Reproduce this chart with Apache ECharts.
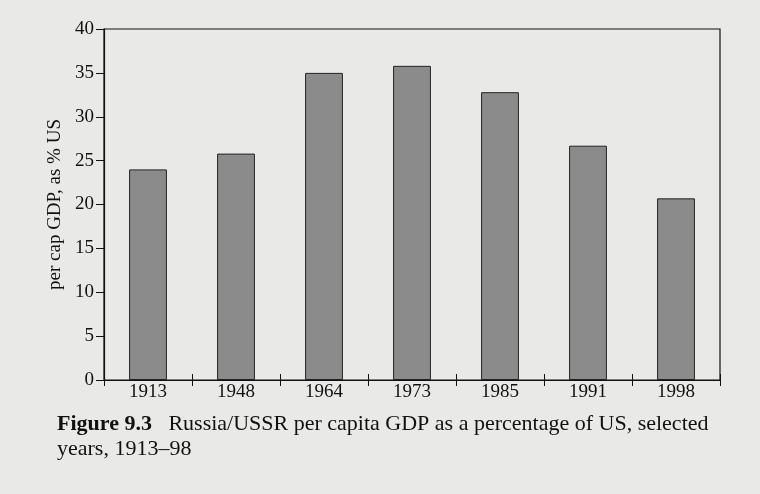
<!DOCTYPE html>
<html>
<head>
<meta charset="utf-8">
<script src="https://cdn.jsdelivr.net/npm/echarts@6/dist/echarts.min.js"></script>
<style>
  html, body { margin: 0; padding: 0; background: #e9e9e7; }
  #chart { width: 760px; height: 494px; }
</style>
</head>
<body>
<div id="chart"></div>
<script>
// data
const years = ['1913', '1948', '1964', '1973', '1985', '1991', '1998']
const pctOfUS = [24, 25.8, 35, 35.8, 32.8, 26.7, 20.7]
const yTicks = [0, 5, 10, 15, 20, 25, 30, 35, 40]

const serif = '"Liberation Serif", "DejaVu Serif", serif'
const chart = echarts.init(document.getElementById('chart'))

chart.setOption({
  backgroundColor: '#e9e9e7',
  animation: false,
  textStyle: { fontFamily: serif },
  grid: {
    left: 104, right: 40, top: 29, bottom: 114,
    show: true, borderColor: '#111', borderWidth: 1.2, backgroundColor: 'transparent'
  },
  title: {
    left: 52, top: 407,
    text: '{b|Figure 9.3}   Russia/USSR per capita GDP as a percentage of US, selected\nyears, 1913–98',
    textStyle: {
      fontFamily: serif, fontSize: 22, fontWeight: 'normal', color: '#111', lineHeight: 25,
      rich: { b: { fontFamily: serif, fontSize: 22, fontWeight: 'bold', color: '#111' } }
    }
  },
  xAxis: [{
    type: 'category',
    data: years,
    axisLine: { lineStyle: { color: '#111', width: 1.2 } },
    axisTick: { show: true, length: 6, inside: false, lineStyle: { color: '#111' } },
    axisLabel: { color: '#111', fontSize: 19, fontFamily: serif, margin: 3 }
  }, {
    // upper half of the crossing ticks
    type: 'category',
    data: years,
    position: 'bottom',
    axisLine: { show: false },
    axisTick: { show: true, length: 6, inside: true, lineStyle: { color: '#111' } },
    axisLabel: { show: false }
  }],
  yAxis: {
    type: 'value',
    min: yTicks[0], max: yTicks[yTicks.length - 1], interval: 5,
    name: 'per cap GDP, as % US',
    nameLocation: 'middle', nameGap: 34, nameRotate: 90,
    nameTextStyle: { fontFamily: serif, fontSize: 19, color: '#111' },
    axisLine: { show: true, lineStyle: { color: '#111', width: 1.2 } },
    axisTick: { show: true, length: 8, lineStyle: { color: '#111' } },
    splitLine: { show: false },
    axisLabel: { color: '#111', fontSize: 19, fontFamily: serif, margin: 10 }
  },
  series: [{
    type: 'bar',
    data: pctOfUS,
    barWidth: '43%',
    itemStyle: { color: '#8b8b8b', borderColor: '#222', borderWidth: 1 }
  }]
})
</script>
</body>
</html>
